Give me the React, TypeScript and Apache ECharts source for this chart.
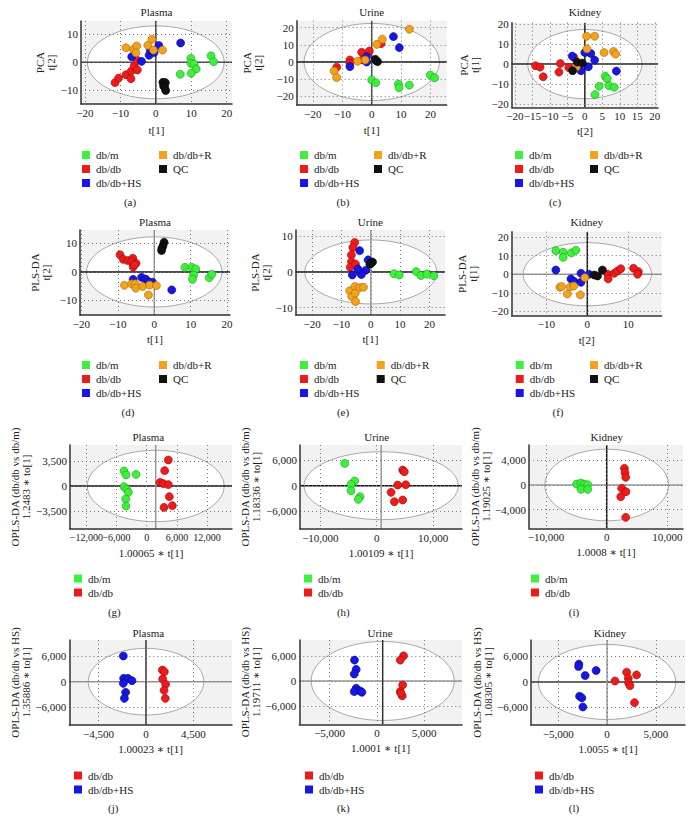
import React, { useEffect, useRef } from 'react';
import * as echarts from 'echarts';

// ---------- data ----------
// (a) PCA Plasma
const aDbm = [[9.9,1.4],[9.9,-0.35],[10.8,-0.6],[11.4,-2.35],[10.0,-3.9],[6.9,-4.2],[15.6,2.35],[16.3,0.25]];
const aDbdb = [[-11.5,-7.2],[-10.5,-5.6],[-8.4,-4.4],[-7.0,-5.8],[-6.9,-3.1],[-6.1,-1.2],[-5.2,-2.7],[-5.2,0.7]];
const aHs = [[-6.8,2.0],[-4.0,0.35],[-1.9,2.5],[-1.6,4.4],[-0.5,3.5],[0.85,6.0],[7.0,6.9]];
const aR = [[-8.4,5.2],[-6.3,4.6],[-5.4,5.8],[-5.6,3.4],[-2.25,6.1],[-1.1,8.2],[-0.65,4.35],[1.9,4.35]];
const aQc = [[2.0,-7.1],[2.7,-7.2],[2.2,-8.4],[2.5,-8.8],[2.8,-10.0]];
// (b) PCA Urine
const bDbm = [[0,-10.5],[1.4,-12.1],[9.1,-12.9],[9.3,-15.0],[12.8,-13.5],[19.9,-7.6],[21.4,-9.2]];
const bDbdb = [[-11.9,-3.1],[-7.4,1.2],[-7.4,-0.8],[-3.4,5.7],[-3.2,1.2],[-0.8,6.4],[3.2,10.7]];
const bHs = [[-7.4,-2.7],[-1.7,3.1],[-1.7,0],[7.4,14.8],[9.4,8.4]];
const bR = [[-12.8,-5.3],[-11.9,-9.0],[-4.8,0.4],[-2.2,1.2],[1.7,10.3],[3.6,13.3],[12.8,19.1]];
const bQc = [[1.5,0.8],[2.0,0.2],[1.2,1.6]];
// (c) PCA Kidney
const cDbm = [[5.8,-6.0],[6.4,-7.3],[6.9,-10.8],[4.1,-11.1],[8.4,-11.6],[2.9,-15.3]];
const cDbdb = [[-14.1,-0.8],[-12.8,-1.5],[-11.9,-6.3],[-7.4,-4.0],[-7.0,0.3],[-4.6,-1.7],[-3.1,3.3]];
const cHs = [[-3.6,4.0],[0,5.8],[1.7,5.3],[2.8,2.0],[1.0,-1.3],[-1.1,-3.3],[9.0,-3.5]];
const cR = [[0.5,13.9],[2.8,13.9],[0.6,7.6],[5.5,5.8],[8.2,6.3],[8.8,5.0],[-2.4,-1.3]];
const cQc = [[-3.5,-3.3],[-2.2,1.0],[-0.7,0.5]];
// (d) PLS-DA Plasma
const dDbm = [[8.4,1.6],[10.3,1.6],[11.4,1.05],[10.8,-1.05],[10.5,-2.6],[15.1,-2.0],[15.8,-0.8]];
const dDbdb = [[-9.4,6.0],[-8.5,4.4],[-7.3,4.0],[-5.9,4.8],[-6.2,3.6],[-5.0,3.0],[-5.8,1.75],[-5.5,2.5]];
const dHs = [[-5.8,-2.6],[-3.5,-1.9],[-2.4,-2.5],[-1.6,-3.4],[-0.5,-3.6],[4.8,-6.3]];
const dR = [[-8.2,-4.7],[-6.2,-4.2],[-5.2,-4.2],[-5.1,-5.7],[-3.2,-5.1],[-1.6,-8.1],[-1.3,-4.6],[0.6,-4.8]];
const dQc = [[2.7,10.4],[2.4,9.2],[2.1,8.3],[2.0,7.5]];
// (e) PLS-DA Urine
const eDbm = [[7.9,-0.5],[9.7,-0.85],[15.5,0.1],[17.1,-1.0],[19.1,-0.6],[21.5,-1.1]];
const eDbdb = [[-5.5,8.3],[-6.1,6.9],[-6.6,4.8],[-6.6,2.9],[-7.0,1.3],[-5.2,2.2],[-4.0,0.1]];
const eHs = [[-3.8,6.0],[-0.9,3.4],[-1.7,0.5],[-3.2,-0.7],[-6.3,-0.85],[-4.4,0.85]];
const eR = [[-7.2,-5.3],[-5.4,-4.1],[-3.8,-4.4],[-2.5,-4.3],[-6.5,-6.9],[-5.3,-6.0],[-5.2,-8.3]];
const eQc = [[0,2.4],[0.6,2.8],[-0.3,2.2]];
// (f) PLS-DA Kidney
const fDbm = [[-7.7,12.7],[-5.9,11.8],[-5.9,9.1],[-3.9,11.5],[-2.8,12.9]];
const fDbdb = [[5.0,0],[5.1,-2.5],[6.6,0.5],[7.4,1.8],[8.2,3.0],[11.3,3.2],[12.5,1.4],[12.3,0]];
const fHs = [[-7.7,2.3],[-4.0,-2.5],[-3.2,-3.9],[-1.55,0.5],[-1.55,-4.3],[0.4,0]];
const fR = [[-6.7,-7.0],[-6.3,-6.6],[-4.9,-10.6],[-4.2,-6.8],[-3.3,-6.3],[-1.7,-11.1],[-0.6,-1.8]];
const fQc = [[1.7,-0.4],[2.5,-0.9],[3.7,2.3]];
// (g) OPLS-DA Plasma db/db vs db/m
const gDbm = [[-4500,2100],[-4100,1540],[-2120,1630],[-4500,-90],[-3970,-470],[-3640,-890],[-4170,-1820],[-4100,-2800]];
const gDbdb = [[4300,3640],[3570,2150],[2650,510],[3310,330],[4300,190],[4500,-1490],[3440,-2990],[5100,-2750]];
// (h) OPLS-DA Urine db/db vs db/m
const hDbm = [[-5680,5250],[-3910,1100],[-4560,310],[-4560,-1180],[-2960,-2590],[-3260,-3210]];
const hDbdb = [[4620,3680],[4910,3290],[3730,160],[5150,240],[2550,-1570],[4620,-3370],[3140,-3760]];
// (i) OPLS-DA Kidney db/db vs db/m
const iDbm = [[-4940,160],[-4230,320],[-3680,110],[-3130,50],[-4230,-700],[-3130,-700]];
const iDbdb = [[2910,2700],[3020,2000],[3130,1240],[2470,-540],[3180,-1080],[2310,-1890],[3130,-5240]];
// (j) OPLS-DA Plasma db/db vs HS
const jDbdb = [[1550,2740],[1740,2350],[1580,630],[1860,-630],[1710,-2040],[1830,-3920]];
const jHs = [[-2150,6040],[-2120,780],[-1710,780],[-1330,240],[-2150,-390],[-1930,-2510],[-2050,-3920]];
// (k) OPLS-DA Urine db/db vs HS
const kDbdb = [[2820,6000],[2470,4970],[2720,-950],[2470,-2520],[2680,-3550],[2540,-2920]];
const kHs = [[-2370,4970],[-2190,2760],[-2400,1660],[-2190,-1740],[-2400,-2520],[-1770,-2370],[-1590,-2680]];
// (l) OPLS-DA Kidney db/db vs HS
const lDbdb = [[820,240],[2010,2310],[2180,870],[2210,-160],[2350,-870],[3030,1670],[2820,-4850]];
const lHs = [[-2890,4210],[-2920,3660],[-2240,1510],[-1120,2700],[-2820,-3340],[-2580,-3740],[-2480,-5880]];

// Hotelling ellipse semi-axes (axis units)
const ellipseAxes = [
  [19.3, 12.95], [23, 22.5], [16.3, 17.3],
  [18.6, 12.3], [22.5, 9], [15.7, 17],
  [13600, 5000], [13700, 8000], [10200, 5800],
  [5480, 7850], [7570, 9400], [7050, 8820],
];
// where the drawn ellipse / cross lines sit on the x axis (axis units)
const ellipseCentreX = [0, 0, 0, 0, 0, 0, 1790, 800, 0, 0, 610, 0];

const FONT = '"Liberation Serif", "DejaVu Serif", serif';
const COLORS: Record<string, [string, string]> = {
  'db/m': ['#3cf03c', '#1f9a1f'],
  'db/db': ['#ee1b1b', '#990a0a'],
  'db/db+HS': ['#1616e6', '#06066e'],
  'db/db+R': ['#f4a11c', '#a56a0a'],
  'QC': ['#111111', '#000000'],
};

type Panel = {
  grid: number[]; x: number[]; y: number[]; title: string; titleXY: number[];
  caption: string; capXY: number[]; xName: string; yName: string; xGap: number; yGap: number;
  zero: string[]; groups: [string, number[][]][]; legend: [number, number, string[]][]; xLabelSize?: number;
};

const five = (m: number[][], d: number[][], h: number[][], r: number[][], q: number[][]): [string, number[][]][] =>
  [['db/m', m], ['db/db', d], ['db/db+HS', h], ['db/db+R', r], ['QC', q]];
const leg5 = (x1: number, x2: number, top: number): [number, number, string[]][] =>
  [[x1, top, ['db/m', 'db/db', 'db/db+HS']], [x2, top, ['db/db+R', 'QC']]];

const panels: Panel[] = [
  { grid: [81, 21, 151, 83], x: [-21.1, 21.5, 10], y: [-14.8, 14.7, 10], title: 'Plasma', titleXY: [156.5, 12],
    caption: '(a)', capXY: [130, 202], xName: 't[1]', yName: 'PCA\nt[2]', xGap: 20, yGap: 25, zero: ['#444', '#444'],
    groups: five(aDbm, aDbdb, aHs, aR, aQc), legend: leg5(82, 159, 148) },
  { grid: [296.7, 20.7, 150, 84.3], x: [-25.5, 25.5, 10], y: [-25.1, 24.1, 10], title: 'Urine', titleXY: [371.7, 12],
    caption: '(b)', capXY: [343, 202], xName: 't[1]', yName: 'PCA\nt[2]', xGap: 19, yGap: 33, zero: ['#444', '#111'],
    groups: five(bDbm, bDbdb, bHs, bR, bQc), legend: leg5(300, 374, 148) },
  { grid: [511.7, 22.7, 146.3, 84.6], x: [-20.9, 20.9, 5], y: [-21.6, 20.7, 10], title: 'Kidney', titleXY: [585, 12],
    caption: '(c)', capXY: [555, 202], xName: 't[2]', yName: 'PCA\nt[1]', xGap: 18, yGap: 31, zero: ['#222', '#222'],
    groups: five(cDbm, cDbdb, cHs, cR, cQc), legend: leg5(515, 590, 148) },
  { grid: [80, 230, 150, 85], x: [-20.4, 20.8, 10], y: [-15.1, 14.7, 10], title: 'Plasma', titleXY: [155, 222],
    caption: '(d)', capXY: [128, 412], xName: 't[1]', yName: 'PLS-DA\nt[2]', xGap: 18, yGap: 29, zero: ['#999', '#111'],
    groups: five(dDbm, dDbdb, dHs, dR, dQc), legend: leg5(82, 159, 358) },
  { grid: [295.7, 230, 149.3, 85], x: [-25.6, 25.3, 10], y: [-12.1, 11.8, 10], title: 'Urine', titleXY: [370.3, 222],
    caption: '(e)', capXY: [343, 412], xName: 't[1]', yName: 'PLS-DA\nt[2]', xGap: 18, yGap: 22, zero: ['#999', '#111'],
    groups: five(eDbm, eDbdb, eHs, eR, eQc), legend: leg5(300, 376.7, 358) },
  { grid: [511.7, 231.7, 150, 84], x: [-18.5, 18.2, 10], y: [-22.3, 22.9, 10], title: 'Kidney', titleXY: [586.7, 222],
    caption: '(f)', capXY: [558, 412], xName: 't[2]', yName: 'PLS-DA\nt[1]', xGap: 19, yGap: 33, zero: ['#111', '#999'],
    groups: five(fDbm, fDbdb, fHs, fR, fQc), legend: leg5(515.7, 590, 358) },
  { grid: [70, 445, 162, 84], x: [-15240, 16950, 6000], y: [-6020, 5740, 3500], title: 'Plasma', titleXY: [148.3, 437],
    caption: '(g)', capXY: [114.3, 612], xName: '1.00065 \u2217 t[1]', yName: 'OPLS-DA (db/db vs db/m)\n1.2483 \u2217 to[1]', xGap: 18, yGap: 39, zero: ['#999', '#111'],
    groups: [['db/m', gDbm], ['db/db', gDbdb]], legend: [[74, 571.5, ['db/m', 'db/db']]], xLabelSize: 10 },
  { grid: [300, 445, 162, 84], x: [-13620, 15150, 10000], y: [-10190, 9580, 6000], title: 'Urine', titleXY: [376.7, 437],
    caption: '(h)', capXY: [343.3, 612], xName: '1.00109 \u2217 t[1]', yName: 'OPLS-DA (db/db vs db/m)\n1.18336 \u2217 to[1]', xGap: 18, yGap: 39, zero: ['#999', '#111'],
    groups: [['db/m', hDbm], ['db/db', hDbdb]], legend: [[304, 571.5, ['db/m', 'db/db']]] },
  { grid: [529, 445, 154, 83.3], x: [-12800, 12570, 10000], y: [-7010, 6480, 4000], title: 'Kidney', titleXY: [606.7, 437],
    caption: '(i)', capXY: [574, 612], xName: '1.0008 \u2217 t[1]', yName: 'OPLS-DA (db/db vs db/m)\n1.19025 \u2217 to[1]', xGap: 18, yGap: 36, zero: ['#111', '#999'],
    groups: [['db/m', iDbm], ['db/db', iDbdb]], legend: [[531, 571.5, ['db/m', 'db/db']]] },
  { grid: [69.3, 640, 162.7, 85], x: [-7270, 8150, 4500], y: [-10190, 9810, 6000], title: 'Plasma', titleXY: [148.3, 633],
    caption: '(j)', capXY: [113.3, 808], xName: '1.00023 \u2217 t[1]', yName: 'OPLS-DA (db/db vs HS)\n1.35886 \u2217 to[1]', xGap: 18, yGap: 38, zero: ['#333', '#999'],
    groups: [['db/db', jDbdb], ['db/db+HS', jHs]], legend: [[74, 768.5, ['db/db', 'db/db+HS']]] },
  { grid: [299.3, 640, 162.7, 84.3], x: [-8210, 9000, 5000], y: [-10310, 9760, 6000], title: 'Urine', titleXY: [380, 633],
    caption: '(k)', capXY: [343.3, 808], xName: '1.0001 \u2217 t[1]', yName: 'OPLS-DA (db/db vs HS)\n1.19711 \u2217 to[1]', xGap: 18, yGap: 38, zero: ['#333', '#999'],
    groups: [['db/db', kDbdb], ['db/db+HS', kHs]], legend: [[305, 768.5, ['db/db', 'db/db+HS']]] },
  { grid: [531, 640, 154, 85], x: [-7800, 8000, 5000], y: [-10120, 9880, 6000], title: 'Kidney', titleXY: [610, 633],
    caption: '(l)', capXY: [574, 808], xName: '1.0055 \u2217 t[1]', yName: 'OPLS-DA (db/db vs HS)\n1.08305 \u2217 to[1]', xGap: 18, yGap: 38, zero: ['#999', '#333'],
    groups: [['db/db', lDbdb], ['db/db+HS', lHs]], legend: [[535, 768.5, ['db/db', 'db/db+HS']]] },
];

const fmt = (v: number) => {
  const s = Math.abs(Math.round(v)).toString().replace(/\B(?=(\d{3})+(?!\d))/g, ',');
  return v < 0 ? '\u2212' + s : s;
};

function buildOption() {
  const grid: any[] = [], xAxis: any[] = [], yAxis: any[] = [], series: any[] = [], legend: any[] = [], graphic: any[] = [];
  const label = { fontFamily: FONT, fontSize: 11, color: '#222', margin: 3, showMinLabel: false, showMaxLabel: false, formatter: fmt };
  const split = { show: true, showMinLine: false, showMaxLine: false, lineStyle: { color: '#777', type: [1, 3], width: 1 } };
  const axLine = { show: true, onZero: false, lineStyle: { color: '#333', width: 1.5 } };
  panels.forEach((p, i) => {
    const [l, t, w, h] = p.grid;
    grid.push({ left: l, top: t, width: w, height: h, show: true, backgroundColor: '#f2f2f2', borderWidth: 0, z: 0 });
    xAxis.push({ gridIndex: i, type: 'value', min: p.x[0], max: p.x[1], minInterval: p.x[2], maxInterval: p.x[2], z: 3,
      axisLine: axLine, axisTick: { show: false }, axisLabel: { ...label, fontSize: p.xLabelSize || 11 }, splitLine: split,
      name: p.xName, nameLocation: 'middle', nameGap: p.xGap, nameTextStyle: { fontFamily: FONT, fontSize: 11, color: '#222' } });
    yAxis.push({ gridIndex: i, type: 'value', min: p.y[0], max: p.y[1], minInterval: p.y[2], maxInterval: p.y[2], z: 3,
      axisLine: axLine, axisTick: { show: false }, axisLabel: label, splitLine: split,
      name: p.yName, nameLocation: 'middle', nameRotate: 90, nameGap: p.yGap,
      nameTextStyle: { fontFamily: FONT, fontSize: 11, color: '#222', lineHeight: 11 } });
    const [vCol, hCol] = p.zero;
    series.push({
      type: 'custom', xAxisIndex: i, yAxisIndex: i, z: 1, silent: true, clip: true,
      data: [[ellipseCentreX[i], ...ellipseAxes[i]]],
      renderItem: (params: any, api: any) => {
        const cx = api.value(0);
        const c = api.coord([cx, 0]);
        const e = api.coord([cx + api.value(1), api.value(2)]);
        const cs = params.coordSys;
        return {
          type: 'group', children: [
            { type: 'ellipse', shape: { cx: c[0], cy: c[1], rx: Math.abs(e[0] - c[0]), ry: Math.abs(c[1] - e[1]) },
              style: { fill: '#ffffff', stroke: '#a8a8a8', lineWidth: 1 } },
            { type: 'line', shape: { x1: cs.x, y1: c[1], x2: cs.x + cs.width, y2: c[1] }, style: { stroke: hCol, lineWidth: 1.5 } },
            { type: 'line', shape: { x1: c[0], y1: cs.y, x2: c[0], y2: cs.y + cs.height }, style: { stroke: vCol, lineWidth: 1.5 } },
          ],
        };
      },
    });
    p.groups.forEach(([name, data]) => {
      series.push({ type: 'scatter', name, xAxisIndex: i, yAxisIndex: i, z: 5, data, symbolSize: 8,
        itemStyle: { color: COLORS[name][0], borderColor: COLORS[name][1], borderWidth: 0.6, opacity: 1 } });
    });
    p.legend.forEach(([lx, ly, names]) => {
      legend.push({ left: lx, top: ly, orient: 'vertical', itemWidth: 8, itemHeight: 8, itemGap: 0, padding: 0,
        selectedMode: false, icon: 'rect', data: names,
        itemStyle: { borderWidth: 0 },
        textStyle: { fontFamily: FONT, fontSize: 11, color: '#222', lineHeight: 14, padding: [0, 0, 0, 1] } });
    });
    graphic.push({ type: 'text', x: p.titleXY[0], y: p.titleXY[1], silent: true,
      style: { text: p.title, font: `11px ${FONT}`, fill: '#222', align: 'center', verticalAlign: 'middle', textAlign: 'center', textVerticalAlign: 'middle' } });
    graphic.push({ type: 'text', x: p.capXY[0], y: p.capXY[1], silent: true,
      style: { text: p.caption, font: `11px ${FONT}`, fill: '#222', align: 'center', verticalAlign: 'middle', textAlign: 'center', textVerticalAlign: 'middle' } });
  });
  return { animation: false, backgroundColor: '#ffffff', grid, xAxis, yAxis, series, legend, graphic };
}

export default function App() {
  const ref = useRef<HTMLDivElement>(null);
  useEffect(() => {
    document.body.style.margin = '0';
    if (!ref.current) return;
    const chart = echarts.init(ref.current, undefined, { renderer: 'svg' });
    chart.setOption(buildOption() as any);
    return () => chart.dispose();
  }, []);
  return <div ref={ref} style={{ width: 692, height: 831 }} />;
}
